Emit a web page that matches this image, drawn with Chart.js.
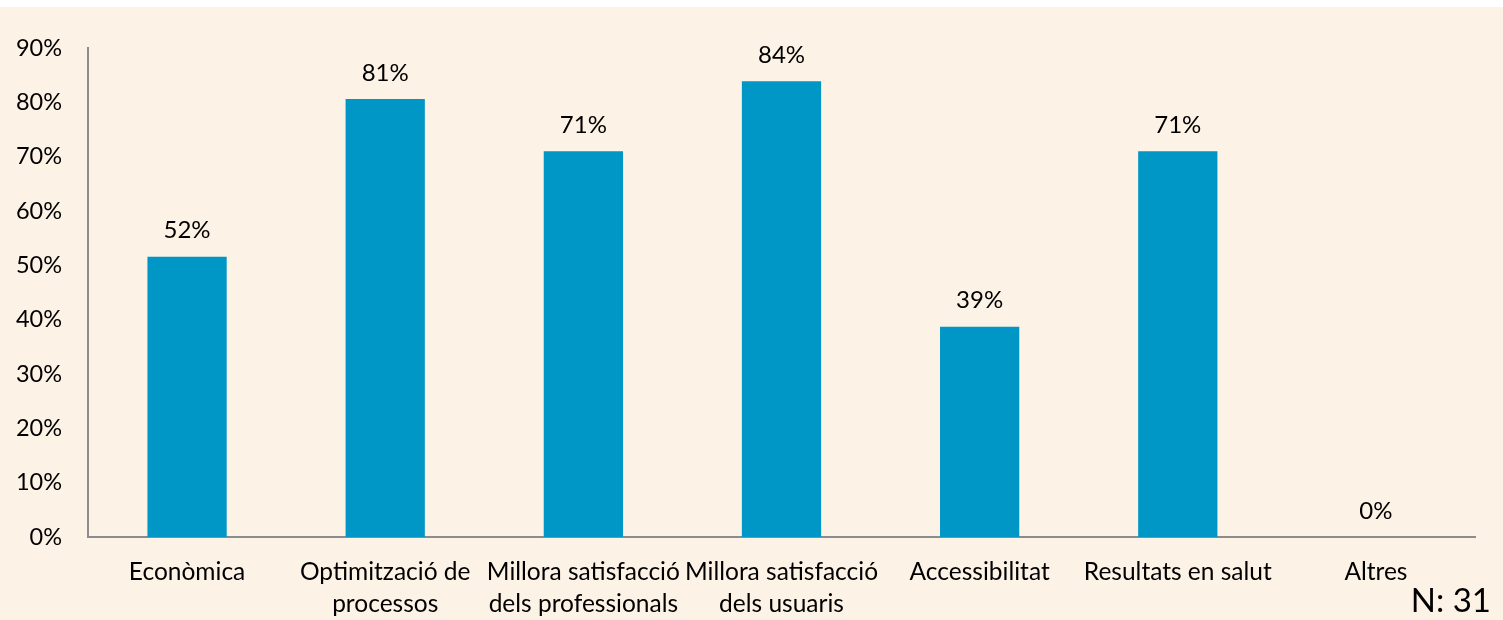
<!DOCTYPE html>
<html>
<head>
<meta charset="utf-8">
<script src="https://cdn.jsdelivr.net/npm/chart.js@4.4.1/dist/chart.umd.min.js"></script>
<style>
  html, body { margin: 0; padding: 0; background: #ffffff; }
  #wrap { position: absolute; left: 0; top: 7px; width: 1503px; height: 613px; background: #fdf2e6; }
</style>
</head>
<body>
<div id="wrap"><canvas id="myChart" width="1503" height="613"></canvas></div>
<script>
// chart data
const categories = [
  'Econòmica',
  ['Optimització de', 'processos'],
  ['Millora satisfacció', 'dels professionals'],
  ['Millora satisfacció', 'dels usuaris'],
  'Accessibilitat',
  'Resultats en salut',
  'Altres'
];
const values = [51.6, 80.6, 71.0, 83.9, 38.7, 71.0, 0];
const yTicks = [0, 10, 20, 30, 40, 50, 60, 70, 80, 90];
const sampleNote = 'N: 31';

const FONT = 'Lato, "Noto Sans", sans-serif';

// value labels above bars + N note
const labelPlugin = {
  id: 'valueLabels',
  afterDatasetsDraw(chart) {
    const ctx = chart.ctx;
    const meta = chart.getDatasetMeta(0);
    ctx.save();
    ctx.fillStyle = '#000';
    ctx.font = '24px ' + FONT;
    ctx.textAlign = 'center';
    ctx.textBaseline = 'middle';
    meta.data.forEach(function (bar, i) {
      ctx.fillText(Math.round(values[i]) + '%', bar.x, bar.y - 26);
    });
    ctx.font = '33px ' + FONT;
    ctx.textAlign = 'right';
    ctx.fillText(sampleNote, chart.width - 12, 594);
    ctx.restore();
  }
};

new Chart(document.getElementById('myChart').getContext('2d'), {
  type: 'bar',
  data: {
    labels: categories,
    datasets: [{
      data: values,
      backgroundColor: '#0096c5',
      barPercentage: 0.8,
      categoryPercentage: 0.5
    }]
  },
  options: {
    responsive: false,
    animation: false,
    layout: { padding: { top: 41, right: 28, left: 0, bottom: 0 } },
    plugins: { legend: { display: false }, tooltip: { enabled: false } },
    scales: {
      x: {
        grid: { display: false },
        border: { display: true, color: '#8c8c8c', width: 2 },
        ticks: {
          color: '#000',
          font: { family: FONT, size: 24.5, lineHeight: 1.27 },
          maxRotation: 0,
          autoSkip: false,
          padding: 12
        },
        afterFit(scale) { scale.height = 83; }
      },
      y: {
        min: 0,
        max: 90,
        afterBuildTicks(scale) { scale.ticks = yTicks.map(v => ({ value: v })); },
        grid: { display: false, drawTicks: false },
        border: { display: true, color: '#8c8c8c', width: 2 },
        ticks: {
          color: '#000',
          font: { family: FONT, size: 23.5 },
          padding: 26,
          callback: v => v + '%'
        },
        afterFit(scale) { scale.width = 88; }
      }
    }
  },
  plugins: [labelPlugin]
});
</script>
</body>
</html>
